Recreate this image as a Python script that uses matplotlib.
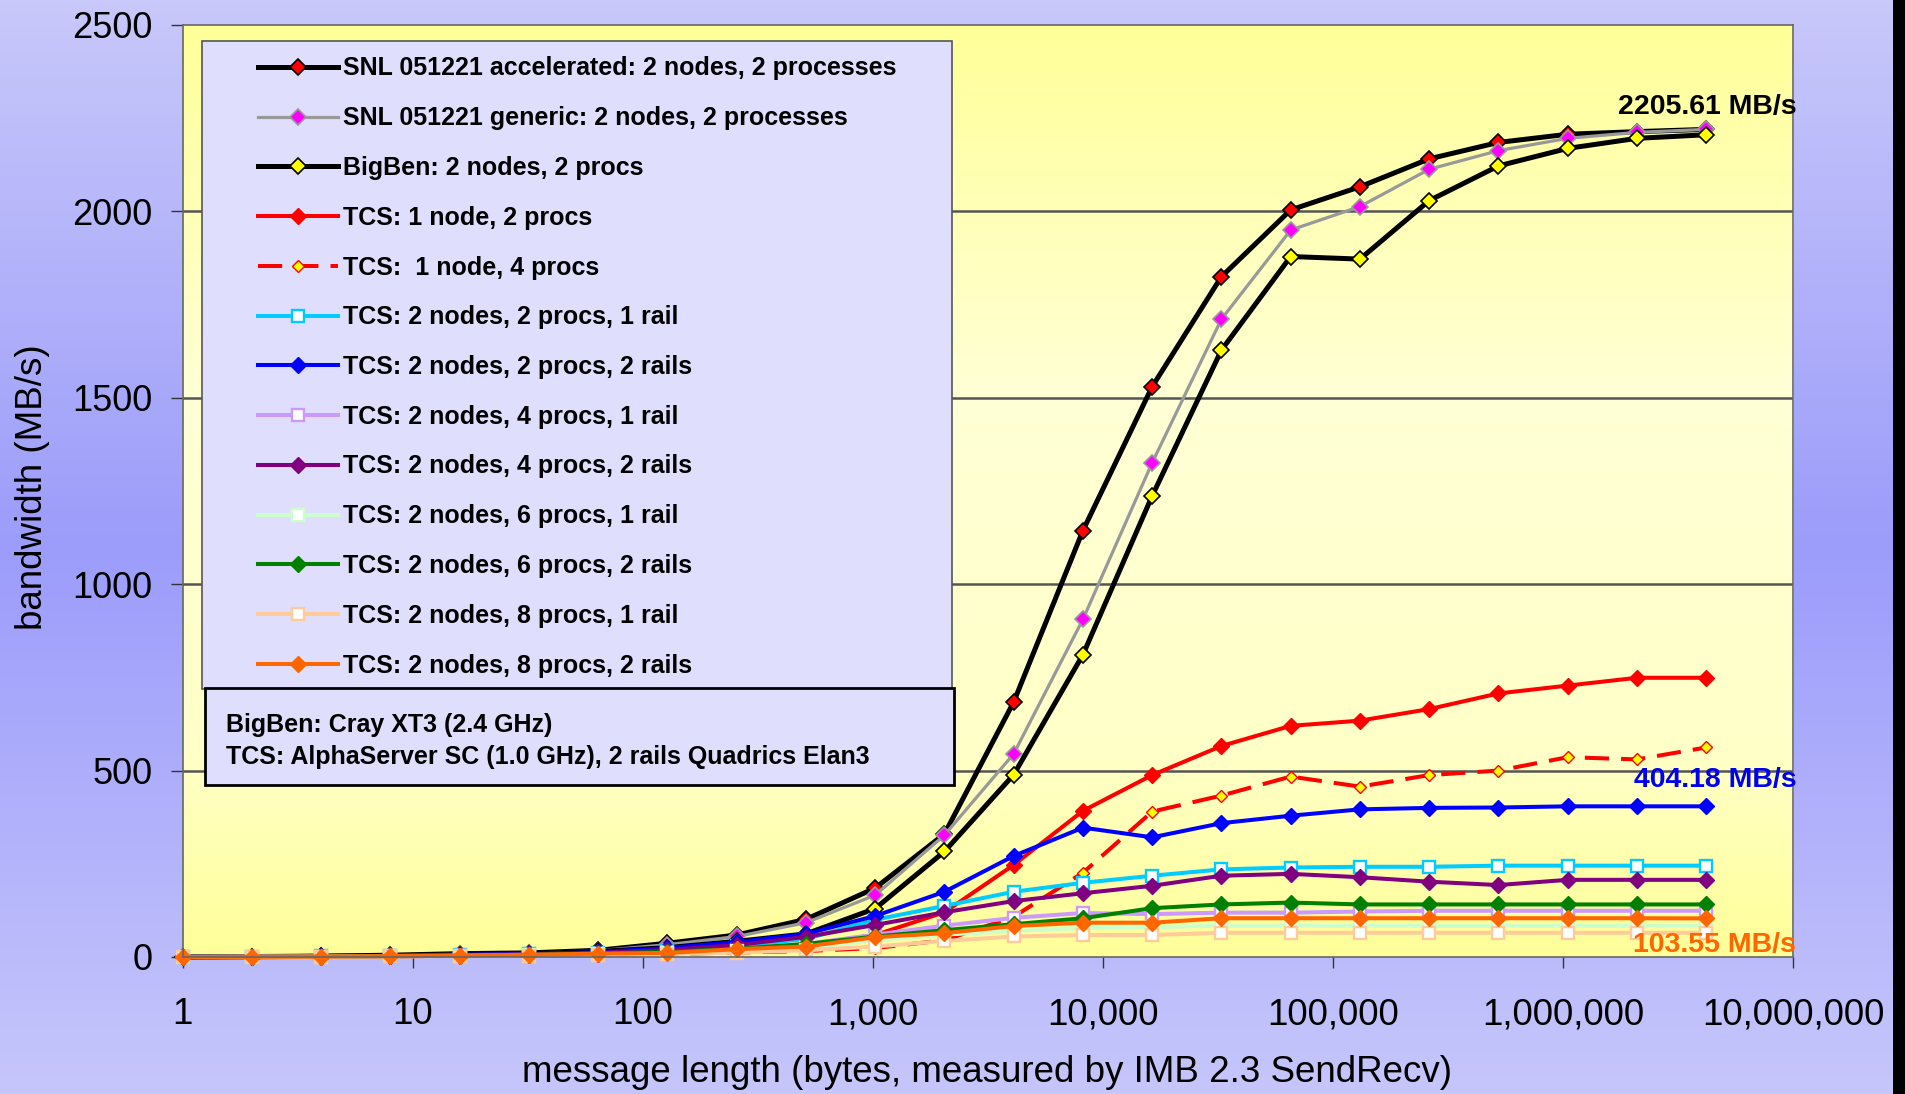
import numpy as np
import matplotlib
matplotlib.use("Agg")
import matplotlib.pyplot as plt
from matplotlib import font_manager
from matplotlib.colors import LinearSegmentedColormap
from matplotlib.patches import Rectangle
from matplotlib.ticker import FixedLocator, FuncFormatter, NullLocator

# message sizes (bytes) and bandwidth in MB/s
msg_bytes = [1, 2, 4, 8, 16, 32, 64, 128, 256, 512, 1024, 2048, 4096, 8192,
             16384, 32768, 65536, 131072, 262144, 524288, 1048576, 2097152, 4194304]

snl_accel = [0.6, 1.2, 2.4, 4.8, 9, 11, 18, 37, 59, 101, 185, 330, 684, 1144,
             1530, 1825, 2004, 2066, 2141, 2185, 2207, 2214, 2220]
snl_generic = [0.5, 1.0, 2, 4, 8, 10, 17, 33, 55, 92, 166, 327, 545, 906,
               1326, 1711, 1950, 2013, 2113, 2163, 2196, 2212, 2220]
bigben = [0.4, 0.8, 1.6, 3, 6, 9, 15, 25, 42, 62, 130, 283, 489, 811,
          1237, 1628, 1879, 1872, 2029, 2122, 2169, 2196, 2205.61]
tcs_1n_2p = [0.3, 0.6, 1.2, 2.4, 4, 6, 9, 14, 22, 33, 59, 120, 247, 392,
             488, 566, 620, 634, 665, 707, 728, 749, 749]
tcs_1n_4p = [0.2, 0.4, 0.8, 1.6, 3, 4, 6, 8, 12, 16, 24, 45, 108, 226,
             390, 433, 484, 457, 488, 500, 536, 530, 562]
tcs_2n_2p_1r = [0.4, 0.8, 1.5, 3, 5, 7, 11, 18, 30, 48, 100, 137, 175, 199,
                218, 235, 240, 242, 242, 245, 245, 245, 245]
tcs_2n_2p_2r = [0.4, 0.8, 1.6, 3, 6, 8, 13, 24, 40, 62, 110, 175, 271, 347,
                321, 359, 379, 396, 400, 401, 404.18, 404.18, 404.18]
tcs_2n_4p_1r = [0.3, 0.6, 1.2, 2.4, 4, 6, 9, 13, 20, 35, 60, 84, 105, 118,
                115, 119, 119, 122, 124, 124, 124, 124, 124]
tcs_2n_4p_2r = [0.4, 0.8, 1.5, 3, 5, 7, 11, 19, 32, 54, 86, 120, 150, 171,
                191, 218, 223, 214, 202, 193, 207, 207, 207]
tcs_2n_6p_1r = [0.2, 0.5, 1, 2, 3, 5, 7, 10, 15, 25, 45, 60, 70, 78,
                80, 84, 84, 84, 84, 84, 84, 84, 84]
tcs_2n_6p_2r = [0.3, 0.6, 1.2, 2.4, 4, 6, 9, 14, 22, 35, 55, 72, 88, 104,
                131, 141, 146, 141, 141, 141, 141, 141, 141]
tcs_2n_8p_1r = [0.2, 0.4, 0.8, 1.6, 3, 4, 6, 8, 12, 18, 28, 43, 55, 59,
                59, 65, 65, 65, 65, 65, 65, 65, 65]
tcs_2n_8p_2r = [0.3, 0.6, 1.2, 2.4, 4, 6, 9, 11, 21, 28, 53, 64, 83, 92,
                92, 104, 104, 104, 104, 104, 104, 104, 103.55]

series_labels = [
    "SNL 051221 accelerated: 2 nodes, 2 processes",
    "SNL 051221 generic: 2 nodes, 2 processes",
    "BigBen: 2 nodes, 2 procs",
    "TCS: 1 node, 2 procs",
    "TCS:  1 node, 4 procs",
    "TCS: 2 nodes, 2 procs, 1 rail",
    "TCS: 2 nodes, 2 procs, 2 rails",
    "TCS: 2 nodes, 4 procs, 1 rail",
    "TCS: 2 nodes, 4 procs, 2 rails",
    "TCS: 2 nodes, 6 procs, 1 rail",
    "TCS: 2 nodes, 6 procs, 2 rails",
    "TCS: 2 nodes, 8 procs, 1 rail",
    "TCS: 2 nodes, 8 procs, 2 rails",
]
series_values = [snl_accel, snl_generic, bigben, tcs_1n_2p, tcs_1n_4p,
                 tcs_2n_2p_1r, tcs_2n_2p_2r, tcs_2n_4p_1r, tcs_2n_4p_2r,
                 tcs_2n_6p_1r, tcs_2n_6p_2r, tcs_2n_8p_1r, tcs_2n_8p_2r]

x_ticks = [1, 10, 100, 1000, 10000, 100000, 1000000, 10000000]
y_ticks = [0, 500, 1000, 1500, 2000, 2500]
grid_levels = [500, 1000, 1500, 2000]

notes = ["BigBen: Cray XT3 (2.4 GHz)",
         "TCS: AlphaServer SC (1.0 GHz), 2 rails Quadrics Elan3"]
callouts = [("2205.61 MB/s", 2280, "black"),
            ("404.18 MB/s", 475, "#0000ee"),
            ("103.55 MB/s", 32, "#ff6600")]

# line / marker styles, same order as the series
dia = dict(marker="D", ms=7.8)
sq = dict(marker="s", ms=8, mfc="white", mew=1.7)
styles = [
    dict(color="black", lw=3.6, mfc="red", mec="black", mew=1.2, **dia),
    dict(color="#999999", lw=2.3, mfc="#ff00ff", mec="#999999", mew=1.2, **dia),
    dict(color="black", lw=3.6, mfc="#ffff00", mec="black", mew=1.2, **dia),
    dict(color="#ff0000", lw=2.9, mfc="#ff0000", mec="#ff0000", **dia),
    dict(color="#ff0000", lw=2.9, ls=(0, (6, 3)), marker="D", ms=6.2,
         mfc="#ffff00", mec="#ff0000", mew=1.0),
    dict(color="#00ccff", lw=2.9, mec="#00ccff", **sq),
    dict(color="#0000ff", lw=2.9, mfc="#0000ff", mec="#0000ff", **dia),
    dict(color="#cc99ff", lw=2.9, mec="#cc99ff", **sq),
    dict(color="#800080", lw=2.9, mfc="#800080", mec="#800080", **dia),
    dict(color="#ccffcc", lw=2.9, mec="#ccffcc", **sq),
    dict(color="#008000", lw=2.9, mfc="#008000", mec="#008000", **dia),
    dict(color="#ffcc99", lw=2.9, mec="#ffcc99", **sq),
    dict(color="#ff6600", lw=2.9, mfc="#ff6600", mec="#ff6600", **dia),
]

plt.rcParams["font.family"] = ["Liberation Sans", "DejaVu Sans"]
bold = dict(family=["Liberation Sans", "DejaVu Sans"], weight="bold")
leg_size = 18

W, H = 1906, 1094
fig = plt.figure(figsize=(W / 100, H / 100), dpi=100)

# lavender page gradient
bg = fig.add_axes([0, 0, 1, 1], zorder=-10)
bg_cmap = LinearSegmentedColormap.from_list(
    "page", [(0, "#c8c8fa"), (0.5, "#9c9cfb"), (1, "#c6c6fb")])
bg.imshow(np.linspace(0, 1, 256)[:, None], cmap=bg_cmap, aspect="auto",
          extent=[0, 1, 0, 1])
bg.axis("off")
fig.add_artist(Rectangle((1893 / W, 0), 13 / W, 1, transform=fig.transFigure,
                         facecolor="black", edgecolor="none", zorder=-1))

ax_rect = [182.7 / W, 1 - 957 / H, (1793 - 182.7) / W, (957 - 25) / H]

# yellow plot-area gradient
pa = fig.add_axes(ax_rect, zorder=-5)
pa_cmap = LinearSegmentedColormap.from_list(
    "plot", [(0, "#ffff99"), (0.4, "#ffffd6"), (0.78, "#ffffc8"), (1, "#ffff99")])
pa.imshow(np.linspace(0, 1, 256)[:, None], cmap=pa_cmap, aspect="auto",
          extent=[0, 1, 0, 1])
pa.axis("off")

ax = fig.add_axes(ax_rect)
ax.patch.set_alpha(0)

handles = []
for vals, lab, st in zip(series_values, series_labels, styles):
    h, = ax.plot(msg_bytes, vals, label=lab, clip_on=False, **st)
    handles.append(h)

for g in grid_levels:
    ax.axhline(g, color="#555555", lw=1.8, zorder=1)

ax.set_xscale("log")
ax.set_xlim(1, 1e7)
ax.set_ylim(0, 2500)
ax.xaxis.set_major_locator(FixedLocator(x_ticks))
ax.xaxis.set_minor_locator(NullLocator())
ax.xaxis.set_major_formatter(FuncFormatter(lambda v, p: f"{int(round(v)):,}"))
ax.yaxis.set_major_locator(FixedLocator(y_ticks))
ax.tick_params(axis="y", labelsize=26, length=8.5, width=1, pad=13.5, color="#333333")
ax.tick_params(axis="x", labelsize=26.5, length=8, width=1, pad=21, color="#333333")
for s in ax.spines.values():
    s.set_color("#666666")
    s.set_linewidth(1.2)

fig.text(33 / W, 1 - 487 / H, "bandwidth (MB/s)", rotation=90, fontsize=26.5,
         ha="center", va="center")
fig.text(987 / W, 1 - 1073 / H,
         "message length (bytes, measured by IMB 2.3 SendRecv)", fontsize=26.5,
         ha="center", va="center")

for txt, yv, col in callouts:
    ax.text(1.002, yv, txt, transform=ax.get_yaxis_transform(), ha="right",
            va="center", color=col, fontsize=20.5, clip_on=False, **bold)

# legend frame and notes box (drawn inside the axes so the legend sits on top)
ax.add_patch(Rectangle((202 / W, 1 - 689 / H), 750 / W, 648 / H,
                       transform=fig.transFigure, facecolor="#dfdffd",
                       edgecolor="#555555", lw=1.2, zorder=4, clip_on=False))
ax.add_patch(Rectangle((205 / W, 1 - 785 / H), 749 / W, 97 / H,
                       transform=fig.transFigure, facecolor="#dfdffd",
                       edgecolor="black", lw=2, zorder=4, clip_on=False))
for i, line in enumerate(notes):
    fig.text(226 / W, 1 - (725 + 32 * i) / H, line, fontsize=leg_size,
             ha="left", va="center", zorder=4, **bold)

leg = ax.legend(handles, series_labels, loc="upper left",
                bbox_to_anchor=(258 / W, 1 - 56.5 / H), bbox_transform=fig.transFigure,
                frameon=False, borderpad=0, borderaxespad=0, handlelength=3.2,
                handletextpad=0.2, labelspacing=1.03,
                prop=font_manager.FontProperties(size=leg_size, **bold))
leg.set_zorder(5)

fig.savefig("out.png", dpi=100)
